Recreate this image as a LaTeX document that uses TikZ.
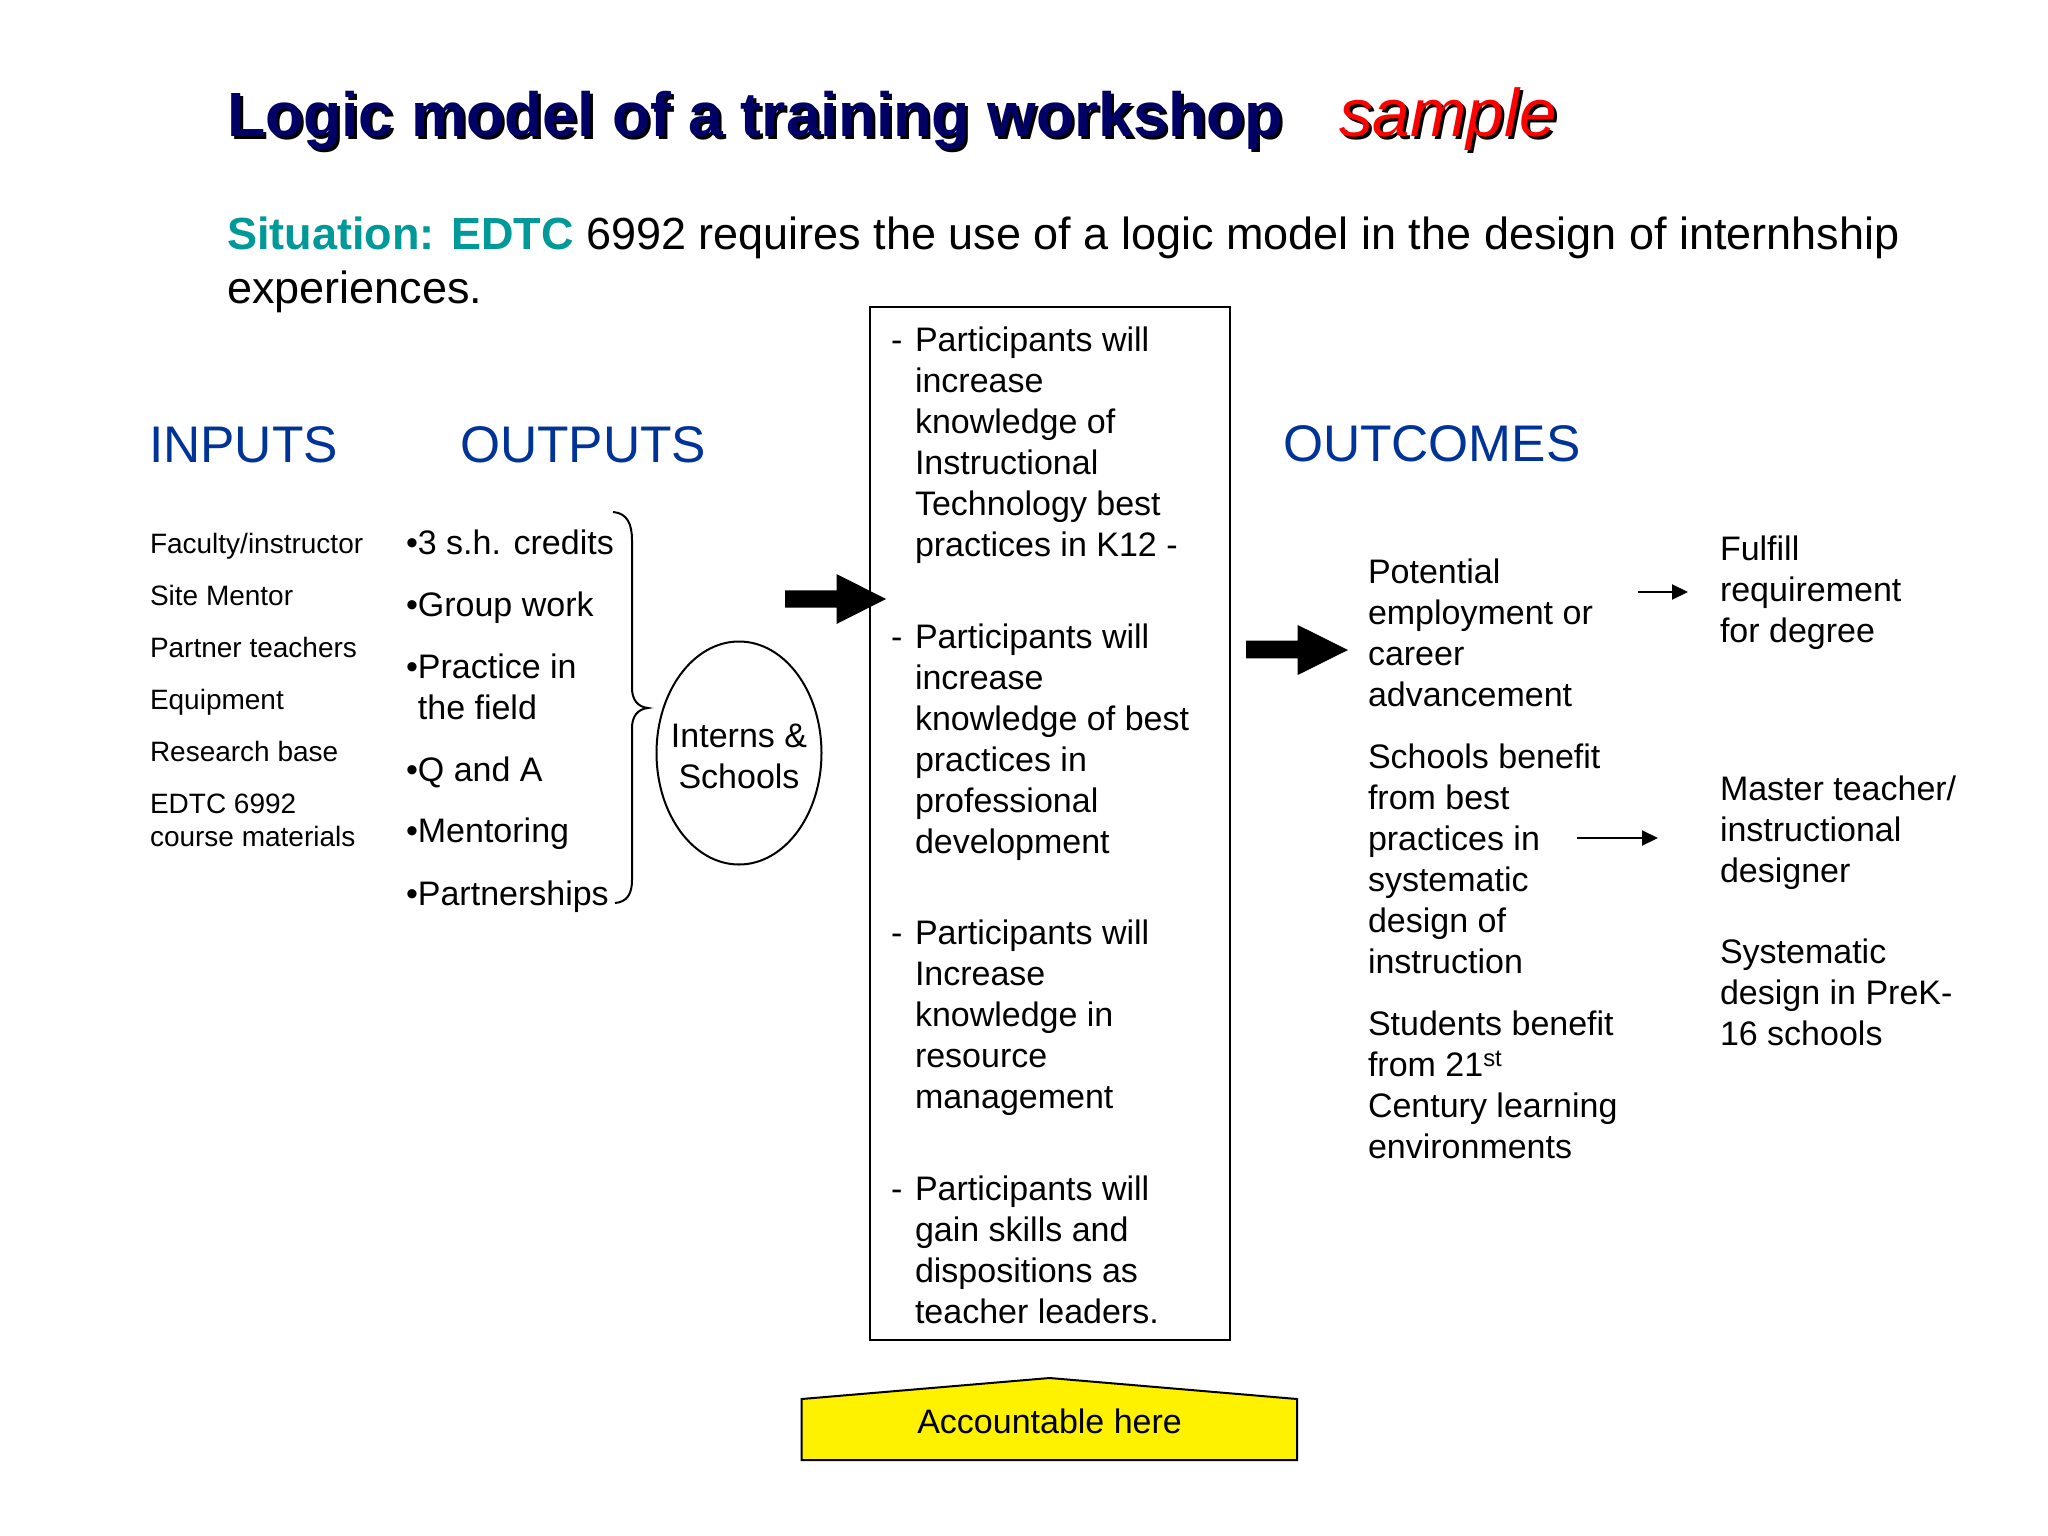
\documentclass[tikz,border=0pt]{standalone}
\usepackage{fontspec}
\setmainfont{Liberation Sans}
\usetikzlibrary{shapes.geometric, arrows.meta}
\definecolor{navy}{RGB}{0,0,102}
\definecolor{hdrblue}{RGB}{0,51,153}
\definecolor{tealc}{RGB}{0,153,153}
\newcommand\mylines[1]{\begin{tabular}[t]{@{}l@{}}#1\end{tabular}}
\newcommand\mylinesc[1]{\begin{tabular}[t]{@{}c@{}}#1\end{tabular}}
\newcommand\shadowtext[2]{\rlap{\hspace{3pt}\raisebox{-3pt}{\textcolor{black}{#2}}}\textcolor{#1}{#2}}
\begin{document}
\begin{tikzpicture}[x=1pt,y=-1pt,
  every node/.style={inner sep=0pt, outer sep=0pt, anchor=base west},
  ttl/.style={font=\fontsize{62.5}{72}\selectfont\bfseries},
  smp/.style={font=\fontsize{67.5}{72}\selectfont\itshape},
  sit/.style={font=\fontsize{45}{54}\selectfont},
  hdr/.style={font=\fontsize{51.5}{60}\selectfont, text=hdrblue},
  inp/.style={font=\fontsize{28}{33.6}\selectfont},
  body/.style={font=\fontsize{34}{41}\selectfont},
  thinln/.style={line width=2pt},
  smallarrow/.style={line width=2pt, -{Triangle[length=16pt,width=15pt]}},
]
\fill[white] (0,0) rectangle (2048,1536);
\useasboundingbox (0,0) rectangle (2048,1536);

% title
\node[ttl] (ttl) at (227,136) {\shadowtext{navy}{Logic model of a training workshop}};
\node[smp] (smp) at (1339,136) {\shadowtext{red}{sample}};

% situation
\node[sit] (sit) at (227,249) {\textcolor{tealc}{\bfseries Situation: EDTC} 6992 requires the use of a logic model in the design of internhship};
\node[sit] (sit2) at (227,303) {experiences.};

% headers
\node[hdr] (hin) at (149,462) {INPUTS};
\node[hdr] (hout) at (460,462) {OUTPUTS};
\node[hdr] (hoc) at (1283,461) {OUTCOMES};

% inputs
\node[inp] (i1) at (150,553) {Faculty/instructor};
\node[inp] (i2) at (150,605) {Site Mentor};
\node[inp] (i3) at (150,657) {Partner teachers};
\node[inp] (i4) at (150,709) {Equipment};
\node[inp] (i5) at (150,761) {Research base};
\node[inp] (i6) at (150,813) {\mylines{EDTC 6992\\course materials}};

% outputs
\node[body] (o1) at (406,554) {•3 s.h. credits};
\node[body] (o2) at (406,616) {•Group work};
\node[body] (o3) at (406,678) {\mylines{•Practice in\\\phantom{•}the field}};
\node[body] (o4) at (406,781) {•Q and A};
\node[body] (o5) at (406,842) {•Mentoring};
\node[body] (o6) at (406,905) {•Partnerships};

% brace
\draw[thinln] (613,512) .. controls (627,513) and (632,524) .. (632,540) -- (632,688)
  .. controls (632,700) and (638,707) .. (648,708)
  .. controls (638,709) and (632,716) .. (632,728) -- (632,880)
  .. controls (632,894) and (627,902) .. (615,903);

% ellipse
\node[draw, ellipse, thinln, minimum width=165pt, minimum height=223pt, anchor=center] (ell) at (739,753) {};
\node[body, anchor=base] (elltxt) at (739,747) {\mylinesc{Interns \&\\Schools}};

% big arrows
\fill (785,590.3) -- (836.5,590.3) -- (836.5,574) -- (886,599) -- (836.5,624) -- (836.5,607.7) -- (785,607.7) -- cycle;
\fill (1246,640.7) -- (1297.7,640.7) -- (1297.7,625) -- (1348,650) -- (1297.7,675) -- (1297.7,658.4) -- (1246,658.4) -- cycle;

% middle box
\node[draw, thinln, anchor=center, minimum width=360pt, minimum height=1033pt] (mid) at (1050,823.5) {};
\node[body] (d1) at (891,351.7) {-};
\node[body] (m1) at (915,351.7) {\mylines{Participants will\\increase\\knowledge of\\Instructional\\Technology best\\practices in K12 -}};
\node[body] (d2) at (891,648) {-};
\node[body] (m2) at (915,648) {\mylines{Participants will\\increase\\knowledge of best\\practices in\\professional\\development}};
\node[body] (d3) at (891,944.7) {-};
\node[body] (m3) at (915,944.7) {\mylines{Participants will\\Increase\\knowledge in\\resource\\management}};
\node[body] (d4) at (891,1200.7) {-};
\node[body] (m4) at (915,1200.7) {\mylines{Participants will\\gain skills and\\dispositions as\\teacher leaders.}};

% outcomes
\node[body] (c1) at (1368,583) {\mylines{Potential\\employment or\\career\\advancement}};
\node[body] (c2) at (1368,768.5) {\mylines{Schools benefit\\from best\\practices in\\systematic\\design of\\instruction}};
\node[body] (c3) at (1368,1035) {\mylines{Students benefit\\from 21\textsuperscript{st}\\Century learning\\environments}};

\node[body] (r1) at (1720,560.7) {\mylines{Fulfill\\requirement\\for degree}};
\node[body] (r2) at (1720,800) {\mylines{Master teacher/\\instructional\\designer}};
\node[body] (r3) at (1720,963) {\mylines{Systematic\\design in PreK-\\16 schools}};

% small arrows
\coordinate (s1a) at (1638,592);
\coordinate (s1b) at (1688,592);
\coordinate (s2a) at (1577,838);
\coordinate (s2b) at (1658,838);
\draw[smallarrow] (s1a) -- (s1b);
\draw[smallarrow] (s2a) -- (s2b);

% accountable
\draw[thinln, fill=yellow] (801.7,1399) -- (1049.6,1378) -- (1297,1399) -- (1297,1460) -- (801.7,1460) -- cycle;
\node[body, anchor=base] (acc) at (1049.6,1433) {Accountable here};
\end{tikzpicture}
\end{document}
